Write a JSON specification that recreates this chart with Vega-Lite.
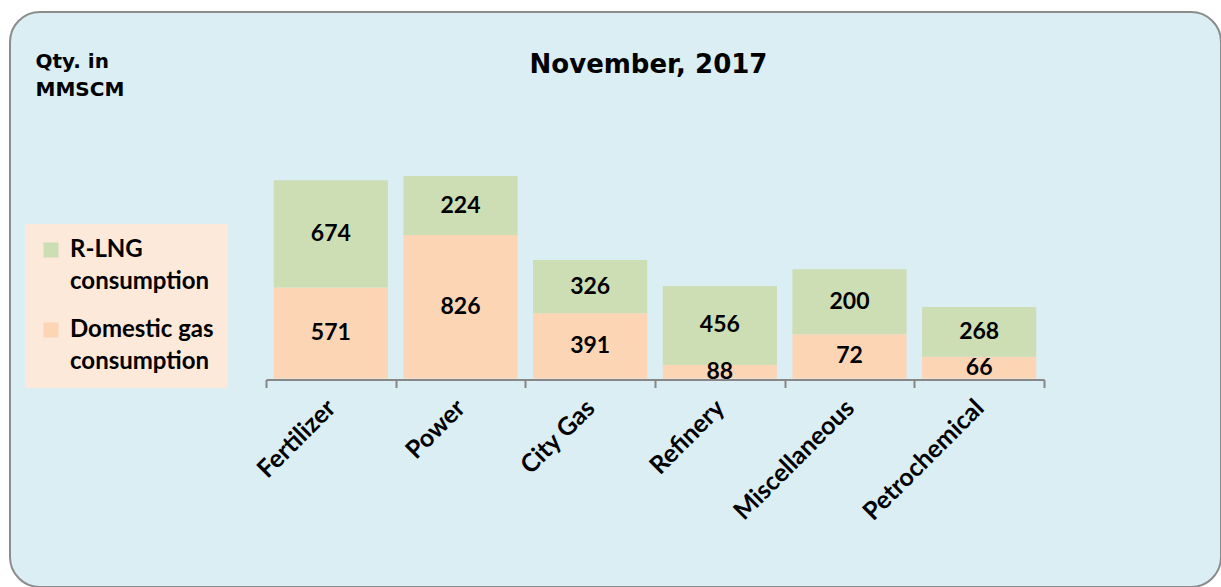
{
  "$schema": "https://vega.github.io/schema/vega-lite/v6.json",
  "width": 1211,
  "height": 575,
  "autosize": {"type": "none"},
  "padding": {"left": 10, "top": 12, "right": 0, "bottom": 0},
  "background": "#FFFFFF",
  "title": {
    "text": "November, 2017",
    "anchor": "middle",
    "frame": "group",
    "font": "DejaVu Sans",
    "fontSize": 26,
    "fontWeight": "bold",
    "color": "#000000",
    "offset": 0,
    "dx": 33,
    "dy": 87,
    "baseline": "alphabetic"
  },
  "data": {
    "values": [
      {"sector": "Fertilizer", "type": "Domestic gas consumption", "ord": 1, "qty": 571, "label": "571"},
      {"sector": "Fertilizer", "type": "R-LNG consumption", "ord": 2, "qty": 674, "label": "674"},
      {"sector": "Power", "type": "Domestic gas consumption", "ord": 1, "qty": 901, "label": "826"},
      {"sector": "Power", "type": "R-LNG consumption", "ord": 2, "qty": 371, "label": "224"},
      {"sector": "City Gas", "type": "Domestic gas consumption", "ord": 1, "qty": 410, "label": "391"},
      {"sector": "City Gas", "type": "R-LNG consumption", "ord": 2, "qty": 335, "label": "326"},
      {"sector": "Refinery", "type": "Domestic gas consumption", "ord": 1, "qty": 85, "label": "88"},
      {"sector": "Refinery", "type": "R-LNG consumption", "ord": 2, "qty": 496, "label": "456"},
      {"sector": "Miscellaneous", "type": "Domestic gas consumption", "ord": 1, "qty": 278, "label": "72"},
      {"sector": "Miscellaneous", "type": "R-LNG consumption", "ord": 2, "qty": 408, "label": "200"},
      {"sector": "Petrochemical", "type": "Domestic gas consumption", "ord": 1, "qty": 137, "label": "66"},
      {"sector": "Petrochemical", "type": "R-LNG consumption", "ord": 2, "qty": 312, "label": "268"}
    ]
  },
  "transform": [
    {"stack": "qty", "groupby": ["sector"], "sort": [{"field": "ord", "order": "ascending"}], "as": ["lo", "hi"]},
    {"calculate": "(datum.lo + datum.hi) / 2", "as": "mid"}
  ],
  "encoding": {
    "x": {
      "field": "sector",
      "type": "nominal",
      "sort": ["Fertilizer", "Power", "City Gas", "Refinery", "Miscellaneous", "Petrochemical"],
      "scale": {"range": [256, 1034], "paddingInner": 0, "paddingOuter": 0},
      "axis": {
        "title": null,
        "offset": -207.5,
        "tickBand": "extent",
        "grid": false,
        "domainColor": "#878787",
        "domainWidth": 2,
        "tickColor": "#878787",
        "tickWidth": 2,
        "tickSize": 8,
        "labelAngle": -45,
        "labelAlign": "right",
        "labelBaseline": "middle",
        "labelPadding": 16,
        "labelFont": "Lato",
        "labelFontSize": 25,
        "labelFontWeight": "bold",
        "labelColor": "#000000"
      }
    }
  },
  "layer": [
    {
      "mark": {"type": "bar", "width": {"band": 0.88}},
      "encoding": {
        "y": {
          "field": "lo",
          "type": "quantitative",
          "scale": {"domain": [0, 2302], "range": [366.5, 0], "nice": false, "zero": true},
          "axis": {
            "title": ["Qty. in", "MMSCM"],
            "domain": false,
            "ticks": false,
            "labels": false,
            "grid": false,
            "titleAngle": 0,
            "titleX": 25,
            "titleY": 55,
            "titleAlign": "left",
            "titleBaseline": "alphabetic",
            "titleFont": "DejaVu Sans",
            "titleFontSize": 20,
            "titleFontWeight": "bold",
            "titleColor": "#000000",
            "titleLineHeight": 28
          }
        },
        "y2": {"field": "hi"},
        "color": {
          "field": "type",
          "type": "nominal",
          "scale": {
            "domain": ["R-LNG consumption", "Domestic gas consumption"],
            "range": ["#CDDDB4", "#FCD5B5"]
          },
          "legend": {
            "orient": "none",
            "legendX": 15,
            "legendY": 212,
            "title": null,
            "fillColor": "#FDE9D9",
            "padding": 14,
            "symbolType": "square",
            "symbolSize": 225,
            "symbolStrokeWidth": 0,
            "symbolOpacity": 1,
            "labelFont": "Lato",
            "labelFontSize": 24,
            "labelFontWeight": "bold",
            "labelColor": "#000000",
            "labelBaseline": "middle",
            "labelOffset": 7,
            "labelLimit": 400,
            "rowPadding": 24,
            "labelExpr": "datum.label == 'R-LNG consumption' ? ['R-LNG', 'consumption'] : ['Domestic gas', 'consumption']"
          }
        }
      }
    },
    {
      "mark": {"type": "text", "font": "Lato", "fontSize": 23, "fontWeight": "bold", "color": "#000000", "baseline": "middle", "align": "center"},
      "encoding": {
        "y": {"field": "mid", "type": "quantitative"},
        "text": {"field": "label", "type": "nominal"}
      }
    }
  ],
  "config": {
    "view": {"fill": "#DAEEF3", "stroke": "#8C8C8C", "strokeWidth": 2, "cornerRadius": 30},
    "style": {"guide-label": {"lineHeight": 32}}
  }
}
